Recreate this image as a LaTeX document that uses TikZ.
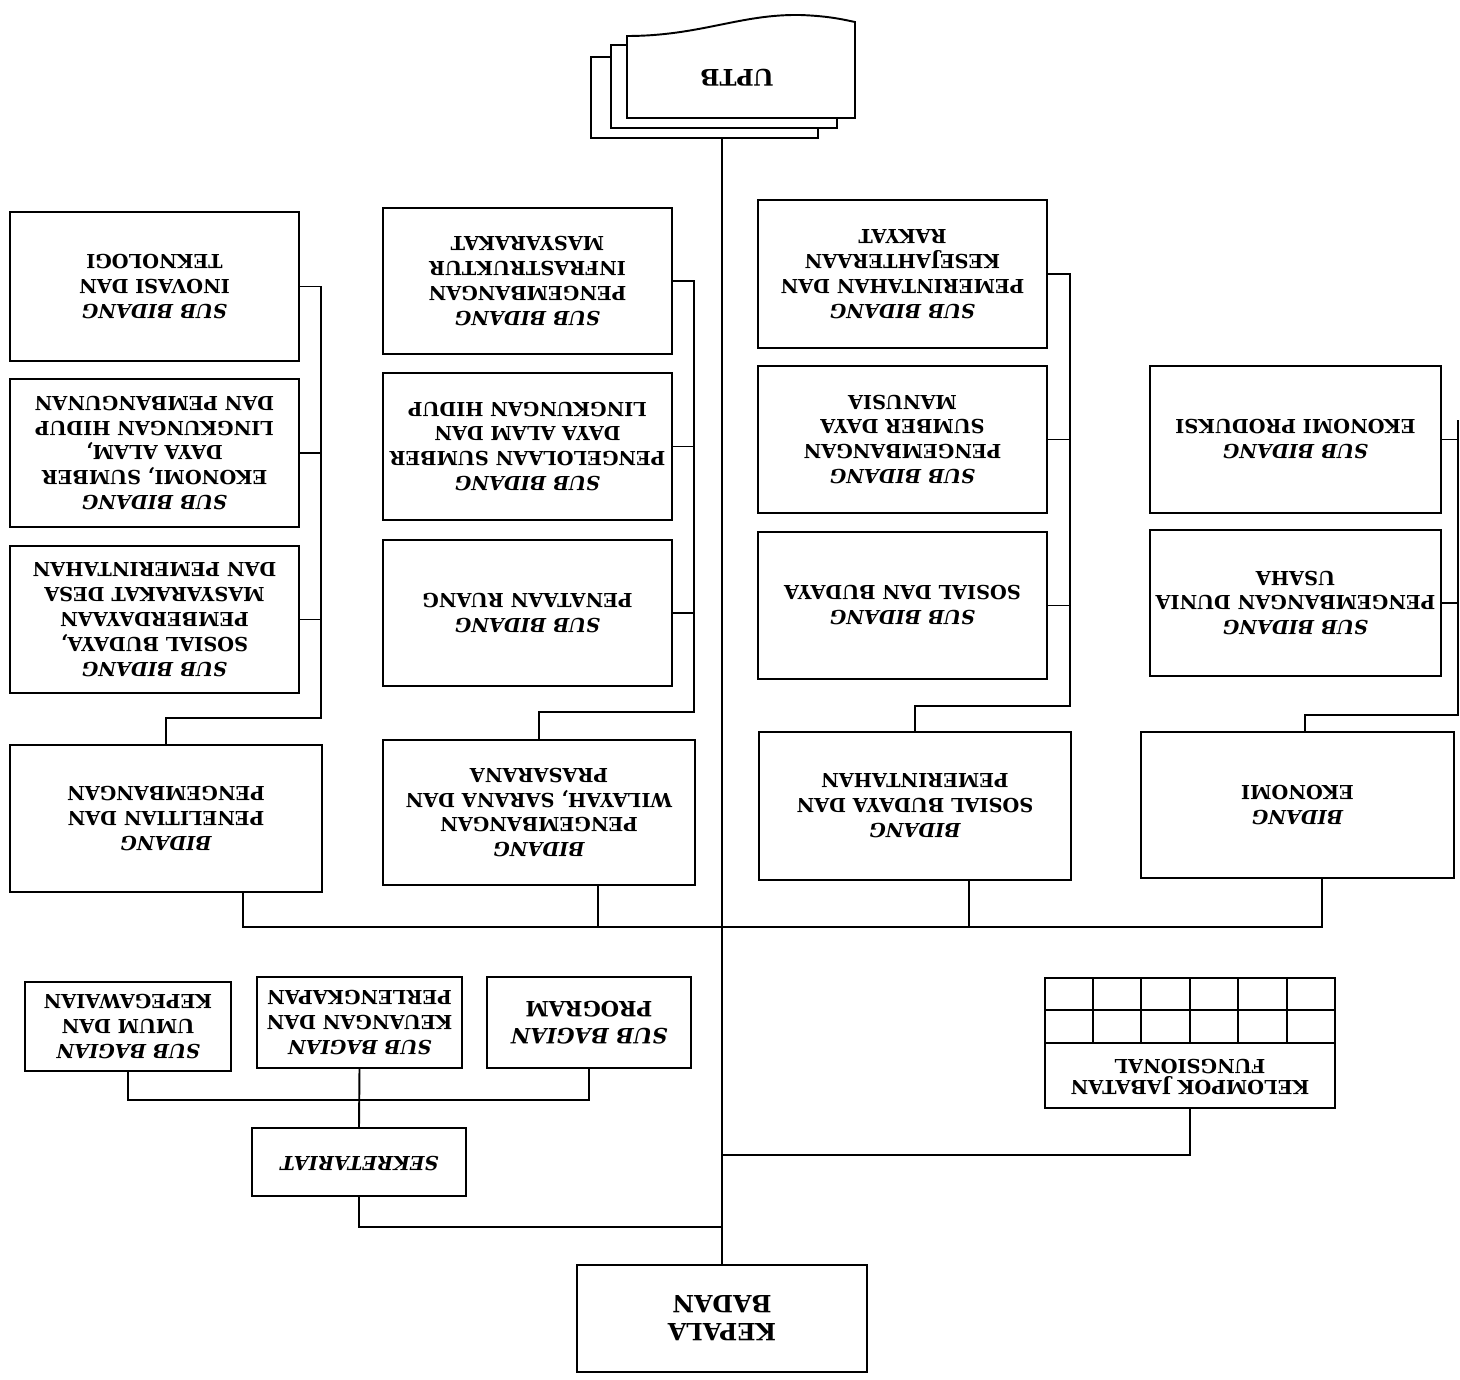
\documentclass[tikz,border=0pt]{standalone}
\usepackage{fontspec}
\setmainfont{DejaVu Serif}
\usetikzlibrary{fit}
\newcommand{\sbd}{\textit{SUB BIDANG}}
\newcommand{\sbg}{\textit{SUB BAGIAN}}
\begin{document}
\begin{tikzpicture}[x=0.02cm,y=-0.02cm,
  box/.style={draw,line width=1.1pt,fill=white,inner sep=0pt},
  ln/.style={line width=1.1pt},
  txt/.style={inner sep=0pt,rotate=180,align=center,
    font=\fontsize{11}{14.2}\selectfont\bfseries}]
\useasboundingbox (0,0) rectangle (1460,1379);
\fill[white] (0,0) rectangle (1460,1379);

% UPTB stacked document shape
\node[box,fit={(591,57)(818,138)}] (uptbback) {};
\node[box,fit={(611,45)(837,128)}] (uptbmid) {};
\draw[ln,fill=white] (627,118) -- (627,36) .. controls (700,36) and (740,14) .. (800,15)
  .. controls (830,16) and (845,20) .. (855,22) -- (855,118) -- cycle;
\node[txt,font=\fontsize{13}{16}\selectfont\bfseries] (uptb) at (737,78) {UPTB};

% Kepala
\node[box,fit={(577,1265)(867,1372)}] (kep) {};
\node[txt,font=\fontsize{13.5}{15.9}\selectfont\bfseries] (kept) at (kep.center) {KEPALA\\BADAN};

% Column A
\node[box,fit={(10,212)(299,361)}] (a1) {};
\node[txt] (a1t) at (a1.center) {\sbd\\INOVASI DAN\\TEKNOLOGI};
\node[box,fit={(10,379)(299,527)}] (a2) {};
\node[txt] (a2t) at (a2.center) {\sbd\\EKONOMI, SUMBER\\DAYA ALAM,\\LINGKUNGAN HIDUP\\DAN PEMBANGUNAN};
\node[box,fit={(10,546)(299,693)}] (a3) {};
\node[txt] (a3t) at (a3.center) {\sbd\\SOSIAL BUDAYA,\\PEMBERDAYAAN\\MASYARAKAT DESA\\DAN PEMERINTAHAN};
\node[box,fit={(10,745)(322,892)}] (bA) {};
\node[txt] (bAt) at (bA.center) {\textit{BIDANG}\\PENELITIAN DAN\\PENGEMBANGAN};

% Column B
\node[box,fit={(383,208)(672,354)}] (b1) {};
\node[txt] (b1t) at (b1.center) {\sbd\\PENGEMBANGAN\\INFRASTRUKTUR\\MASYARAKAT};
\node[box,fit={(383,373)(672,520)}] (b2) {};
\node[txt] (b2t) at (b2.center) {\sbd\\PENGELOLAAN SUMBER\\DAYA ALAM DAN\\LINGKUNGAN HIDUP};
\node[box,fit={(383,540)(672,686)}] (b3) {};
\node[txt] (b3t) at (b3.center) {\sbd\\PENATAAN RUANG};
\node[box,fit={(383,740)(695,885)}] (bB) {};
\node[txt] (bBt) at (bB.center) {\textit{BIDANG}\\PENGEMBANGAN\\WILAYAH, SARANA DAN\\PRASARANA};

% Column C
\node[box,fit={(758,200)(1047,348)}] (c1) {};
\node[txt] (c1t) at (c1.center) {\sbd\\PEMERINTAHAN DAN\\KESEJAHTERAAN\\RAKYAT};
\node[box,fit={(758,366)(1047,513)}] (c2) {};
\node[txt] (c2t) at (c2.center) {\sbd\\PENGEMBANGAN\\SUMBER DAYA\\MANUSIA};
\node[box,fit={(758,532)(1047,679)}] (c3) {};
\node[txt] (c3t) at (c3.center) {\sbd\\SOSIAL DAN BUDAYA};
\node[box,fit={(759,732)(1071,880)}] (bC) {};
\node[txt] (bCt) at (bC.center) {\textit{BIDANG}\\SOSIAL BUDAYA DAN\\PEMERINTAHAN};

% Column D
\node[box,fit={(1150,366)(1441,513)}] (d1) {};
\node[txt] (d1t) at (d1.center) {\sbd\\EKONOMI PRODUKSI};
\node[box,fit={(1150,530)(1441,676)}] (d2) {};
\node[txt] (d2t) at (d2.center) {\sbd\\PENGEMBANGAN DUNIA\\USAHA};
\node[box,fit={(1141,732)(1454,878)}] (bD) {};
\node[txt] (bDt) at (bD.center) {\textit{BIDANG}\\EKONOMI};

% Sub bagian
\node[box,fit={(25,982)(231,1071)}] (sb1) {};
\node[txt] (sb1t) at (sb1.center) {\sbg\\UMUM DAN\\KEPEGAWAIAN};
\node[box,fit={(257,977)(462,1068)}] (sb2) {};
\node[txt] (sb2t) at (sb2.center) {\sbg\\KEUANGAN DAN\\PERLENGKAPAN};
\node[box,fit={(487,977)(691,1068)}] (sb3) {};
\node[txt,font=\fontsize{12}{15.3}\selectfont\bfseries] (sb3t) at (sb3.center) {\sbg\\PROGRAM};
\node[box,fit={(252,1128)(466,1196)}] (sek) {};
\node[txt] (sekt) at ([yshift=-0.04cm]sek.center) {\textit{SEKRETARIAT}};

% Kelompok jabatan fungsional
\node[box,fit={(1045,978)(1335,1108)}] (kjf) {};
\draw[ln] (1045,1010) -- (1335,1010) (1045,1043) -- (1335,1043);
\foreach \x in {1093,1141,1190,1238,1287} \draw[ln] (\x,978) -- (\x,1043);
\node[txt,font=\fontsize{11}{12.3}\selectfont\bfseries] (kjftext) at (1190,1077) {KELOMPOK JABATAN\\FUNGSIONAL};

% Coordinates for junctions
\coordinate (cA) at (321,718);
\coordinate (cB) at (694,712);
\coordinate (cC) at (1070,706);
\coordinate (cD) at (1458,715);
\coordinate (dT) at (1458,420);
\coordinate (dJ) at (1305,715);
\coordinate (busA) at (243,927);
\coordinate (busB) at (598,927);
\coordinate (busC) at (969,927);
\coordinate (busD) at (1322,927);
\coordinate (sbbus) at (360,1100);
\coordinate (j1) at (723,1227);
\coordinate (j2) at (723,1155);

% Main spine
\draw[ln] (kep.north) -- (kep.north |- uptbback.south);

% Column connectors
\draw[ln] (a1.east) -| (cA) -| (bA.north);
\draw[ln] (a2.east) -- (a2.east -| cA);
\draw[ln] (a3.east) -- (a3.east -| cA);
\draw[ln] (b1.east) -| (cB) -| (bB.north);
\draw[ln] (b2.east) -- (b2.east -| cB);
\draw[ln] (b3.east) -- (b3.east -| cB);
\draw[ln] (c1.east) -| (cC) -| (bC.north);
\draw[ln] (c2.east) -- (c2.east -| cC);
\draw[ln] (c3.east) -- (c3.east -| cC);
\draw[ln] (dT) -- (cD) -- (dJ) -- (dJ |- bD.north);
\draw[ln] (d1.east) -- (d1.east -| cD);
\draw[ln] (d2.east) -- (d2.east -| cD);

% Bidang bus
\draw[ln] (busA |- bA.south) -- (busA) -- (busD) -- (busD |- bD.south);
\draw[ln] (busB |- bB.south) -- (busB);
\draw[ln] (busC |- bC.south) -- (busC);

% Sekretariat
\draw[ln] (sb1.south) |- (sbbus) -| (sb3.south);
\draw[ln] (sb2.south) -- (sek.north);
\draw[ln] (sek.south) |- (j1);
\draw[ln] (kjf.south) |- (j2);
\end{tikzpicture}
\end{document}
